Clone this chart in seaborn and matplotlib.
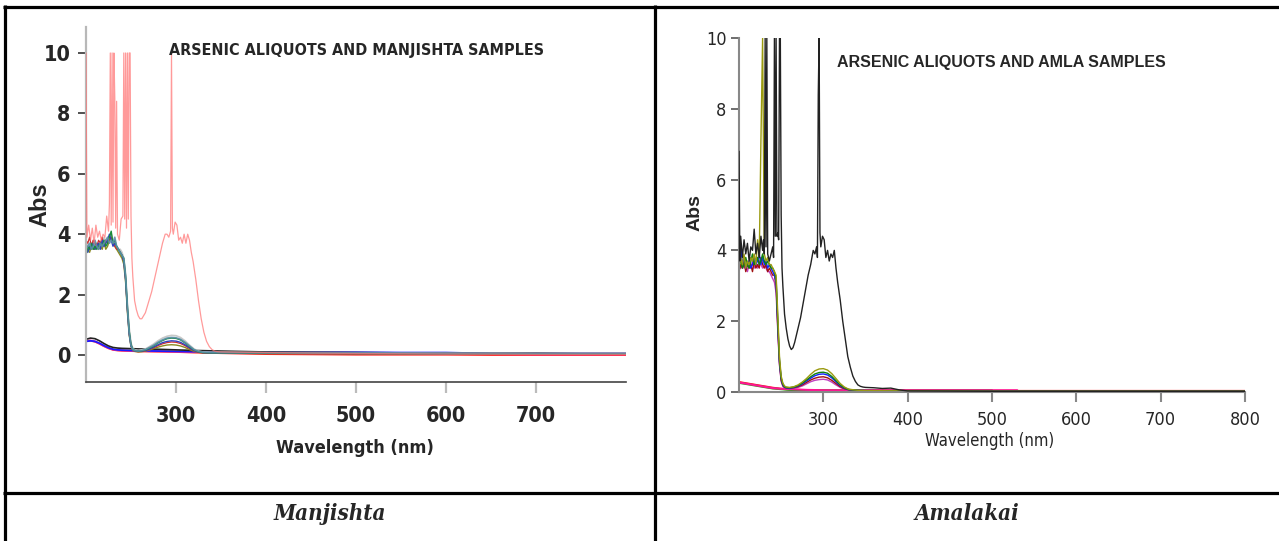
import matplotlib
matplotlib.use("Agg")
import matplotlib.pyplot as plt
from matplotlib.lines import Line2D
import seaborn as sns

# ---------------- data: Manjishta panel ----------------
man_std_wl = [200, 201, 203, 205, 207, 209, 211, 213, 215, 217, 219, 221, 223, 225, 226, 227, 228, 229,
              230, 231, 232, 233, 234, 235, 237, 239, 241, 242, 243, 244, 245, 246, 247, 248, 249, 250,
              251, 252, 254, 256, 258, 260, 262, 264, 266, 268, 270, 273, 276, 279, 282, 285, 288, 290,
              292, 294, 295, 296, 297, 299, 301, 303, 305, 307, 309, 311, 313, 315, 317, 319, 322, 325,
              328, 331, 334, 337, 340, 343, 346, 350, 400, 500, 600, 700, 800]
man_std_abs = [10.0, 3.9, 4.3, 3.8, 4.2, 3.7, 4.3, 3.9, 4.1, 3.8, 4.0, 3.9, 4.6, 4.1, 5.0, 10.0, 4.3, 10.0,
               4.4, 10.0, 8.5, 4.2, 8.4, 4.0, 3.8, 4.5, 4.6, 10.0, 4.5, 10.0, 4.2, 10.0, 4.5, 10.0, 10.0, 4.6,
               3.2, 2.6, 1.8, 1.5, 1.3, 1.2, 1.2, 1.3, 1.4, 1.6, 1.8, 2.1, 2.5, 2.9, 3.3, 3.7, 4.0, 4.0,
               3.9, 4.1, 10.0, 4.2, 4.0, 4.4, 4.3, 3.8, 3.9, 3.7, 4.0, 3.7, 4.0, 3.8, 3.4, 3.1, 2.5, 1.8,
               1.2, 0.75, 0.45, 0.28, 0.18, 0.13, 0.11, 0.10, 0.08, 0.05, 0.03, 0.02, 0.02]

man_wl = [200, 202, 204, 206, 208, 210, 212, 214, 216, 218, 220, 222, 224, 226, 228, 230, 232, 234, 236,
          238, 240, 242, 244, 246, 248, 250, 252, 254, 258, 262, 266, 270, 275, 280, 285, 290, 295, 300,
          305, 310, 315, 320, 325, 330, 340, 350, 400, 500, 600, 700, 800]
man_gray = [3.4, 3.7, 3.6, 3.5, 3.8, 3.6, 3.5, 3.7, 3.6, 3.7, 3.9, 3.7, 3.8, 3.9, 4.0, 3.8, 3.7, 3.6, 3.5,
            3.5, 3.4, 3.2, 2.7, 1.7, 0.9, 0.4, 0.22, 0.17, 0.15, 0.17, 0.20, 0.27, 0.36, 0.47, 0.56, 0.62,
            0.65, 0.64, 0.58, 0.47, 0.33, 0.20, 0.13, 0.10, 0.09, 0.09, 0.08, 0.07, 0.06, 0.05, 0.05]
man_green = [3.3, 3.6, 3.5, 3.7, 3.5, 3.6, 3.5, 3.6, 3.7, 3.6, 3.8, 3.6, 3.7, 3.9, 4.1, 3.7, 3.8, 3.6, 3.5,
             3.4, 3.3, 3.2, 2.6, 1.6, 0.8, 0.35, 0.20, 0.15, 0.13, 0.14, 0.17, 0.22, 0.30, 0.40, 0.48, 0.54,
             0.56, 0.55, 0.50, 0.40, 0.28, 0.17, 0.11, 0.08, 0.07, 0.07, 0.06, 0.05, 0.04, 0.03, 0.03]
man_blue = [3.5, 3.4, 3.6, 3.5, 3.7, 3.5, 3.6, 3.7, 3.5, 3.8, 3.6, 3.7, 3.8, 4.0, 3.8, 3.6, 3.7, 3.6, 3.5,
            3.4, 3.3, 3.1, 2.5, 1.5, 0.7, 0.30, 0.18, 0.14, 0.12, 0.13, 0.15, 0.19, 0.26, 0.34, 0.41, 0.45,
            0.47, 0.46, 0.42, 0.34, 0.24, 0.15, 0.10, 0.08, 0.07, 0.07, 0.07, 0.06, 0.05, 0.04, 0.03]
man_olive = [3.6, 3.5, 3.4, 3.6, 3.5, 3.5, 3.7, 3.5, 3.6, 3.5, 3.7, 3.5, 3.6, 3.8, 3.9, 3.7, 3.6, 3.5, 3.4,
             3.3, 3.2, 3.0, 2.4, 1.4, 0.65, 0.28, 0.16, 0.12, 0.10, 0.11, 0.13, 0.16, 0.21, 0.26, 0.30, 0.33,
             0.34, 0.33, 0.30, 0.25, 0.18, 0.12, 0.09, 0.07, 0.06, 0.06, 0.05, 0.04, 0.04, 0.03, 0.03]
man_teal = [3.5, 3.6, 3.7, 3.5, 3.6, 3.8, 3.6, 3.5, 3.7, 3.6, 3.7, 3.8, 3.9, 3.7, 3.8, 3.7, 3.9, 3.6, 3.5,
            3.4, 3.3, 3.2, 2.6, 1.6, 0.75, 0.32, 0.19, 0.15, 0.13, 0.15, 0.18, 0.24, 0.32, 0.42, 0.50, 0.56,
            0.58, 0.57, 0.52, 0.42, 0.30, 0.18, 0.12, 0.09, 0.08, 0.08, 0.07, 0.06, 0.05, 0.04, 0.04]
man_red = [3.8, 3.7, 3.9, 3.6, 3.8, 3.7, 3.6, 3.8, 3.7, 3.9, 3.6, 3.8, 3.7, 3.8, 3.9, 3.7, 3.6, 3.5, 3.5,
           3.4, 3.3, 3.1, 2.5, 1.5, 0.7, 0.30, 0.17, 0.13, 0.11, 0.12, 0.14, 0.18, 0.24, 0.31, 0.37, 0.41,
           0.43, 0.42, 0.38, 0.31, 0.22, 0.14, 0.09, 0.07, 0.06, 0.06, 0.05, 0.04, 0.03, 0.02, 0.02]

man_low_wl = [200, 205, 210, 215, 220, 225, 230, 235, 240, 250, 260, 280, 300, 320, 350, 400, 450, 500,
              550, 600, 650, 700, 750, 800]
man_low_black = [0.52, 0.56, 0.54, 0.47, 0.38, 0.30, 0.25, 0.23, 0.22, 0.21, 0.20, 0.19, 0.17, 0.15, 0.13,
                 0.10, 0.09, 0.08, 0.07, 0.07, 0.06, 0.06, 0.05, 0.05]
man_low_blue = [0.45, 0.47, 0.45, 0.39, 0.31, 0.24, 0.19, 0.17, 0.16, 0.15, 0.14, 0.13, 0.12, 0.11, 0.10,
                0.10, 0.09, 0.09, 0.08, 0.08, 0.05, 0.05, 0.05, 0.05]
man_low_magenta = [0.47, 0.48, 0.45, 0.38, 0.30, 0.23, 0.18, 0.16, 0.15, 0.14, 0.13, 0.12, 0.11, 0.10, 0.09,
                   0.07, 0.05, 0.04, 0.04, 0.03, 0.03, 0.02, 0.02, 0.02]
man_low_red = [0.46, 0.47, 0.44, 0.37, 0.29, 0.22, 0.17, 0.15, 0.14, 0.13, 0.12, 0.11, 0.10, 0.08, 0.06,
               0.03, 0.02, 0.01, 0.01, 0.01, 0.00, 0.00, 0.00, 0.00]

# ---------------- data: Amla panel ----------------
aml_std_wl = [200, 201, 202, 204, 206, 208, 210, 212, 214, 216, 218, 220, 222, 224, 226, 228, 229, 230,
              231, 232, 233, 234, 236, 238, 240, 241, 242, 243, 244, 245, 246, 247, 248, 249, 250, 251,
              252, 254, 256, 258, 260, 262, 264, 266, 268, 270, 273, 276, 279, 282, 285, 288, 290, 292,
              293, 294, 295, 296, 297, 299, 301, 303, 305, 307, 309, 311, 313, 315, 317, 320, 323, 326,
              329, 332, 335, 338, 341, 344, 347, 350, 360, 370, 380, 390, 400, 500, 600, 700, 800]
aml_std_abs = [6.8, 3.7, 4.4, 3.8, 4.3, 3.9, 4.2, 3.7, 4.1, 4.0, 4.6, 3.9, 4.2, 3.8, 4.4, 4.0, 4.3, 3.9,
               10.0, 4.1, 10.0, 3.9, 3.7, 3.9, 4.1, 3.8, 10.0, 4.4, 10.0, 4.4, 4.5, 4.3, 10.0, 10.0, 5.0, 3.5,
               3.0, 2.2, 1.8, 1.5, 1.3, 1.2, 1.25, 1.4, 1.6, 1.8, 2.1, 2.5, 2.9, 3.3, 3.6, 4.0, 3.9, 4.1,
               3.8, 8.4, 10.0, 4.5, 4.1, 4.4, 4.3, 3.8, 4.0, 3.7, 3.9, 3.8, 4.0, 3.5, 3.1, 2.6, 2.0, 1.5,
               1.0, 0.7, 0.45, 0.30, 0.20, 0.16, 0.14, 0.13, 0.12, 0.10, 0.11, 0.06, 0.03, 0.02, 0.02, 0.02, 0.02]

aml_wl = [200, 202, 204, 206, 208, 210, 212, 214, 216, 218, 220, 222, 224, 226, 228, 230, 232, 234, 236,
          238, 240, 242, 244, 246, 248, 250, 252, 254, 256, 260, 265, 270, 275, 280, 285, 290, 295, 300,
          305, 310, 315, 320, 325, 330, 340, 350, 400, 500, 600, 700, 800]
aml_olive = [3.5, 3.8, 3.6, 3.9, 3.5, 3.7, 3.6, 3.8, 3.7, 3.9, 3.6, 4.3, 3.8, 7.1, 10.0, 3.9, 3.7, 3.8, 3.6,
             3.6, 3.5, 3.4, 3.3, 2.2, 1.0, 0.45, 0.25, 0.17, 0.14, 0.13, 0.15, 0.20, 0.28, 0.38, 0.50, 0.60,
             0.65, 0.66, 0.62, 0.52, 0.38, 0.24, 0.14, 0.08, 0.05, 0.04, 0.03, 0.02, 0.02, 0.02, 0.02]
aml_green = [3.6, 3.7, 3.5, 3.6, 3.8, 3.6, 3.5, 3.7, 3.9, 3.6, 3.7, 3.8, 3.6, 3.7, 3.9, 3.7, 3.6, 3.7, 3.6,
             3.5, 3.5, 3.4, 3.2, 2.0, 0.9, 0.40, 0.22, 0.15, 0.13, 0.12, 0.14, 0.18, 0.25, 0.34, 0.43, 0.51,
             0.55, 0.56, 0.53, 0.44, 0.32, 0.20, 0.12, 0.07, 0.05, 0.04, 0.03, 0.02, 0.02, 0.02, 0.02]
aml_blue = [3.7, 4.2, 3.6, 3.8, 3.5, 3.6, 3.7, 3.5, 3.6, 3.8, 3.6, 3.7, 3.9, 3.6, 3.8, 3.6, 3.7, 3.5, 3.6,
            3.5, 3.4, 3.3, 3.1, 1.9, 0.85, 0.38, 0.20, 0.14, 0.12, 0.11, 0.13, 0.17, 0.23, 0.31, 0.39, 0.46,
            0.50, 0.51, 0.48, 0.40, 0.29, 0.18, 0.11, 0.07, 0.05, 0.04, 0.03, 0.02, 0.02, 0.02, 0.02]
aml_darkred = [3.4, 3.6, 3.5, 3.7, 3.4, 3.6, 3.5, 3.6, 3.4, 3.7, 3.5, 3.6, 3.5, 3.8, 3.6, 3.5, 3.6, 3.4, 3.5,
               3.4, 3.3, 3.3, 3.0, 1.8, 0.8, 0.33, 0.18, 0.13, 0.11, 0.10, 0.12, 0.15, 0.20, 0.27, 0.34, 0.39,
               0.42, 0.43, 0.40, 0.33, 0.24, 0.15, 0.09, 0.06, 0.04, 0.03, 0.03, 0.02, 0.02, 0.02, 0.02]
aml_purple = [3.5, 3.5, 3.7, 3.5, 3.6, 3.4, 3.6, 3.5, 3.7, 3.5, 3.6, 3.5, 3.7, 3.6, 3.5, 3.6, 3.5, 3.4, 3.4,
              3.3, 3.2, 3.1, 2.8, 1.7, 0.75, 0.30, 0.16, 0.12, 0.10, 0.09, 0.10, 0.13, 0.17, 0.23, 0.29, 0.33,
              0.35, 0.36, 0.34, 0.28, 0.20, 0.13, 0.08, 0.05, 0.04, 0.03, 0.03, 0.02, 0.02, 0.02, 0.02]

aml_low_wl = [200, 210, 220, 230, 240, 250, 260, 270, 280, 300, 350, 400, 450, 500, 530, 600, 700, 800]
aml_low_red = [0.28, 0.24, 0.20, 0.16, 0.12, 0.09, 0.07, 0.06, 0.05, 0.04, 0.04, 0.03, 0.03, 0.03, 0.03,
               0.03, 0.03, 0.03]
aml_low_green_wl = [200, 210, 220, 230, 240, 250, 260, 270, 280, 300, 350, 400, 450, 500]
aml_low_green = [0.26, 0.22, 0.18, 0.14, 0.10, 0.08, 0.06, 0.05, 0.05, 0.05, 0.05, 0.05, 0.05, 0.05]
aml_low_mag_wl = [200, 210, 220, 230, 240, 250, 260, 270, 280, 300, 350, 400, 450, 500, 530]
aml_low_mag = [0.27, 0.23, 0.19, 0.15, 0.11, 0.09, 0.08, 0.07, 0.06, 0.05, 0.05, 0.05, 0.05, 0.05, 0.05]

x_ticks_left = [300, 400, 500, 600, 700]
x_ticks_right = [300, 400, 500, 600, 700, 800]
y_ticks = [0, 2, 4, 6, 8, 10]

title_left = "ARSENIC ALIQUOTS AND MANJISHTA SAMPLES"
title_right = "ARSENIC ALIQUOTS AND AMLA SAMPLES"
caption_left = "Manjishta"
caption_right = "Amalakai"
xlabel = "Wavelength (nm)"
ylabel = "Abs"

# ---------------- style ----------------
sns.set_style("white")
plt.rcParams["font.family"] = ["DejaVu Sans"]
NARROW = dict(family="DejaVu Sans", stretch="condensed")

W, H = 1279, 541
fig = plt.figure(figsize=(W / 100, H / 100), dpi=100)


def rect(x0, y_top, x1, y_bot):
    return [x0 / W, (H - y_bot) / H, (x1 - x0) / W, (y_bot - y_top) / H]


def line(ax, x, y, color, lw=1.0, alpha=1.0, z=2):
    sns.lineplot(x=x, y=y, ax=ax, color=color, linewidth=lw, alpha=alpha,
                 estimator=None, sort=False, zorder=z)


# ---------------- left panel ----------------
axL = fig.add_axes(rect(86, 27, 626, 382))
line(axL, man_low_wl, man_low_red, "#ff2020", 1.3)
line(axL, man_low_wl, man_low_magenta, "#ff33aa", 1.3)
line(axL, man_low_wl, man_low_blue, "#1a1aff", 1.3)
line(axL, man_low_wl, man_low_black, "#222222", 1.2)
line(axL, man_wl, man_gray, "#c8c8c8", 1.2)
line(axL, man_wl, man_olive, "#8a8a20", 1.0)
line(axL, man_wl, man_red, "#d03030", 0.9)
line(axL, man_wl, man_blue, "#3040c0", 1.0)
line(axL, man_wl, man_green, "#1a8a3a", 1.0)
line(axL, man_wl, man_teal, "#5a8fa8", 1.2, 0.9)
line(axL, man_std_wl, man_std_abs, "#ff7070", 0.9, 0.7, z=3)

axL.set_xlim(200, 800)
axL.set_ylim(-0.894, 10.86)
axL.set_xticks(x_ticks_left)
axL.set_yticks(y_ticks)
axL.set_xlabel("")
axL.set_ylabel("")
for s in ["top", "right"]:
    axL.spines[s].set_visible(False)
axL.spines["left"].set_color("#b8b8b8")
axL.spines["left"].set_linewidth(1.6)
axL.spines["bottom"].set_color("#444444")
axL.spines["bottom"].set_linewidth(1.2)
axL.tick_params(axis="y", direction="out", length=6, width=1.2, color="#333333", pad=5, left=True)
axL.tick_params(axis="x", direction="out", length=8, width=1.6, color="#bbbbbb", pad=9, bottom=True)
for t in axL.get_xticklabels() + axL.get_yticklabels():
    t.set_fontfamily("DejaVu Sans")
    t.set_fontstretch("condensed")
    t.set_fontweight("bold")
    t.set_fontsize(15.5)
fig.text(356 / W, 1 - 50 / H, title_left, ha="center", va="center", fontweight="bold",
         fontsize=11.5, **NARROW)
fig.text(355 / W, 1 - 448 / H, xlabel, ha="center", va="center", fontweight="bold",
         fontsize=13, **NARROW)
fig.text(40 / W, 1 - 205 / H, ylabel, ha="center", va="center", rotation=90,
         fontweight="bold", fontsize=17, family="Liberation Sans")

# ---------------- right panel ----------------
axR = fig.add_axes(rect(739, 38, 1245, 392))
line(axR, aml_low_wl, aml_low_red, "#ff1010", 1.5)
line(axR, aml_low_green_wl, aml_low_green, "#10b010", 1.5)
line(axR, aml_low_mag_wl, aml_low_mag, "#ff1493", 1.5)
line(axR, aml_wl, aml_purple, "#c040c0", 1.0)
line(axR, aml_wl, aml_darkred, "#a01010", 1.0)
line(axR, aml_wl, aml_blue, "#1020ff", 1.0)
line(axR, aml_wl, aml_green, "#108010", 1.0)
line(axR, aml_wl, aml_olive, "#9a9a10", 1.0)
line(axR, aml_std_wl, aml_std_abs, "#222222", 1.0, z=3)

axR.set_xlim(200, 800)
axR.set_ylim(0, 10)
axR.set_xticks(x_ticks_right)
axR.set_yticks(y_ticks)
axR.set_xlabel("")
axR.set_ylabel("")
for s in ["top", "right"]:
    axR.spines[s].set_visible(False)
axR.spines["left"].set_color("#888888")
axR.spines["left"].set_linewidth(1.5)
axR.spines["bottom"].set_color("#888888")
axR.spines["bottom"].set_linewidth(1.5)
axR.tick_params(axis="y", direction="out", length=6, width=1.2, color="#555555", pad=3, left=True)
axR.tick_params(axis="x", direction="out", length=7, width=1.5, color="#888888", pad=7, bottom=True)
for t in axR.get_xticklabels() + axR.get_yticklabels():
    t.set_fontfamily("DejaVu Sans")
    t.set_fontstretch("condensed")
    t.set_fontsize(13)
fig.text(1001 / W, 1 - 62 / H, title_right, ha="center", va="center",
         fontweight="bold", fontsize=11.5, family="Liberation Sans")
fig.text(990 / W, 1 - 441 / H, xlabel, ha="center", va="center", fontsize=12, **NARROW)
fig.text(695 / W, 1 - 213 / H, ylabel, ha="center", va="center", rotation=90,
         fontweight="bold", fontsize=14, family="Liberation Sans")

# ---------------- table frame and captions ----------------
LW = 2.3
for (xa, ya, xb, yb) in [(3, 6.5, 1279, 6.5), (5, 5, 5, 541), (655, 5, 655, 541), (3, 493, 1279, 493)]:
    fig.add_artist(Line2D([xa / W, xb / W], [1 - ya / H, 1 - yb / H], color="black",
                          linewidth=LW, transform=fig.transFigure, solid_capstyle="butt"))
fig.text(330 / W, 1 - 514 / H, caption_left, ha="center", va="center", family="DejaVu Serif",
         stretch="condensed", fontweight="bold", style="italic", fontsize=16)
fig.text(967 / W, 1 - 514 / H, caption_right, ha="center", va="center", family="DejaVu Serif",
         stretch="condensed", fontweight="bold", style="italic", fontsize=16)

fig.savefig("out.png", dpi=100, facecolor="white")
